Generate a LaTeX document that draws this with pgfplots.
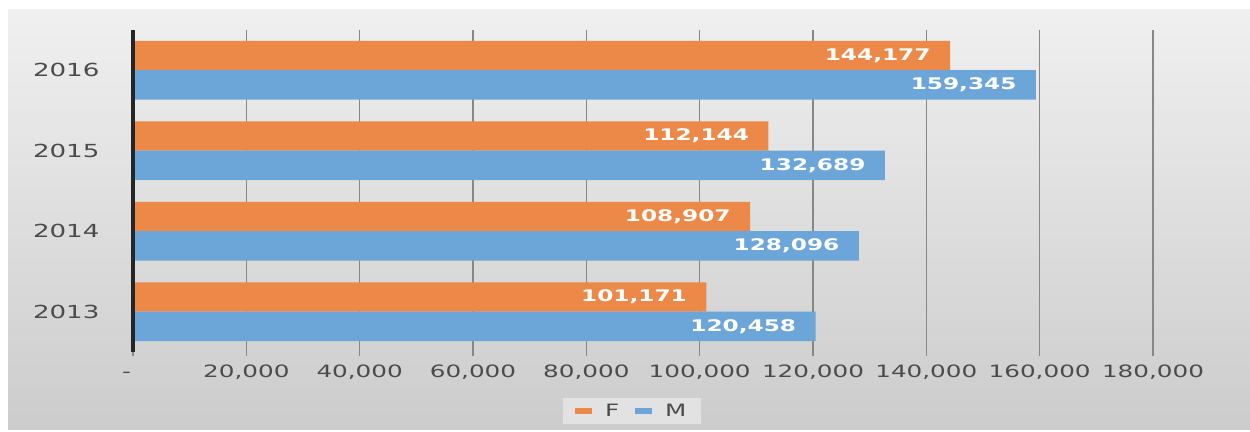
\documentclass[border=0pt]{standalone}
\usepackage{fontspec}
\setmainfont{DejaVu Sans}[FakeStretch=1.45]
\usepackage{pgfplots}
\pgfplotsset{compat=1.18}
\definecolor{forange}{RGB}{237,137,72}
\definecolor{mblue}{RGB}{108,165,216}
\definecolor{ticktext}{RGB}{75,75,75}
\definecolor{gridc}{RGB}{135,135,135}
\definecolor{legfill}{RGB}{226,226,226}
\begin{document}
\begin{tikzpicture}[x=1pt,y=1pt]
\useasboundingbox (0,0) rectangle (1250,431);
\fill[white] (0,0) rectangle (1250,431);
\shade[top color=black!6, bottom color=black!20] (8,2) rectangle (1250,421);
\begin{axis}[
  at={(133pt,79pt)}, anchor=south west, scale only axis,
  width=1020pt, height=322pt,
  xmin=0, xmax=180000, ymin=-0.5, ymax=3.5,
  clip=false,
  xbar, bar width=0.366,
  axis x line*=bottom, axis y line*=left,
  axis line style={draw=none},
  scaled x ticks=false,
  ytick={0,1,2,3}, yticklabels={2013,2014,2015,2016},
  ytick style={draw=none},
  xtick={0,20000,40000,60000,80000,100000,120000,140000,160000,180000},
  xticklabels={{\makebox[0pt][r]{-\kern2pt}},{20,000},{40,000},{60,000},{80,000},{100,000},{120,000},{140,000},{160,000},{180,000}},
  tick align=outside, major tick length=4pt,
  xtick style={gridc, line width=1.2pt},
  xmajorgrids, major grid style={gridc, line width=1.2pt},
  xticklabel style={font=\fontsize{17}{19}\selectfont, text=ticktext, text height=12pt, text depth=0pt, yshift=-6pt},
  yticklabel style={font=\fontsize{18}{20}\selectfont, text=ticktext, xshift=-26pt},
  point meta=x,
  nodes near coords={\pgfmathprintnumber[assume math mode=true, fixed, precision=0, 1000 sep={,}]{\pgfplotspointmeta}},
  every node near coord/.append style={anchor=east, xshift=-16pt, text=white, font=\fontsize{16}{18}\selectfont\bfseries},
  legend style={at={(0.489,-0.183)}, anchor=center, legend columns=2, draw=none,
    fill=legfill, font=\fontsize{17}{19}\selectfont, text=ticktext,
    inner xsep=12pt, inner ysep=4pt,
    /tikz/every odd column/.append style={column sep=11pt},
    /tikz/every even column/.append style={column sep=14pt}},
  legend image code/.code={\fill (0pt,-3pt) rectangle (17pt,3pt);},
]
\addplot[draw=none, fill=forange, bar shift=0.183] coordinates {(101171,0) (108907,1) (112144,2) (144177,3)};
\addplot[draw=none, fill=mblue, bar shift=-0.183] coordinates {(120458,0) (128096,1) (132689,2) (159345,3)};
\legend{F,M}
\draw[line width=4pt, black!85] (rel axis cs:0,0) -- (rel axis cs:0,1);
\end{axis}
\end{tikzpicture}
\end{document}
